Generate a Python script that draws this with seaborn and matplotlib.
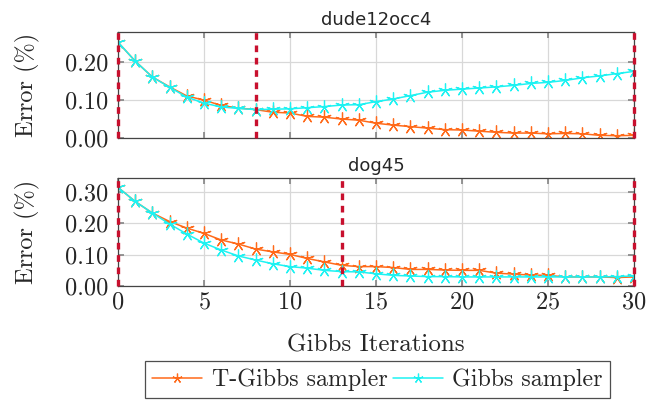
import matplotlib
matplotlib.use("Agg")
import matplotlib.pyplot as plt
import numpy as np
import pandas as pd
import seaborn as sns

# iterations
iters = list(range(31))

# dude12occ4
dude_tgibbs = [0.253, 0.203, 0.161, 0.135, 0.111, 0.100, 0.086, 0.079, 0.075, 0.068, 0.066,
               0.057, 0.055, 0.050, 0.047, 0.039, 0.034, 0.030, 0.026, 0.022, 0.021,
               0.018, 0.015, 0.013, 0.013, 0.011, 0.012, 0.011, 0.007, 0.006, 0.007]
dude_gibbs = [0.253, 0.203, 0.161, 0.134, 0.108, 0.092, 0.082, 0.078, 0.075, 0.076, 0.077,
              0.080, 0.083, 0.087, 0.088, 0.096, 0.103, 0.112, 0.121, 0.126, 0.129,
              0.132, 0.135, 0.139, 0.144, 0.147, 0.152, 0.159, 0.164, 0.170, 0.176]

# dog45
dog_tgibbs = [0.315, 0.270, 0.233, 0.206, 0.185, 0.168, 0.147, 0.134, 0.118, 0.109, 0.101,
              0.088, 0.077, 0.066, 0.062, 0.062, 0.059, 0.053, 0.053, 0.051, 0.050,
              0.050, 0.041, 0.038, 0.035, 0.034, 0.029, 0.029, 0.029, 0.027, 0.029]
dog_gibbs = [0.315, 0.270, 0.233, 0.198, 0.166, 0.137, 0.115, 0.096, 0.083, 0.071, 0.062,
             0.057, 0.050, 0.046, 0.045, 0.039, 0.034, 0.032, 0.030, 0.030, 0.029,
             0.029, 0.029, 0.029, 0.029, 0.029, 0.029, 0.029, 0.029, 0.030, 0.032]

dude_vlines = [0, 8, 30]
dog_vlines = [0, 13, 30]

names = ["T-Gibbs sampler", "Gibbs sampler"]
colors = {"T-Gibbs sampler": "#ff6a1a", "Gibbs sampler": "#1ef2f2"}

sns.set_theme(style="whitegrid")
plt.rcParams["font.family"] = ["cmr10", "DejaVu Serif"]
plt.rcParams["axes.formatter.use_mathtext"] = True
plt.rcParams["mathtext.fontset"] = "cm"

fig = plt.figure(figsize=(6.47, 4.03), dpi=100)
ax1 = fig.add_axes([0.1824, 0.6576, 0.7975, 0.263])
ax2 = fig.add_axes([0.1824, 0.2903, 0.7975, 0.268])

panels = [
    (ax1, "dude12occ4", dude_tgibbs, dude_gibbs, dude_vlines, 0.28, [0, 0.1, 0.2]),
    (ax2, "dog45", dog_tgibbs, dog_gibbs, dog_vlines, 0.345, [0, 0.1, 0.2, 0.3]),
]

for ax, title, tg, g, vl, ytop, yt in panels:
    df = pd.DataFrame({
        "iter": iters * 2,
        "err": tg + g,
        "method": [names[0]] * len(iters) + [names[1]] * len(iters),
    })
    sns.lineplot(data=df, x="iter", y="err", hue="method", palette=colors,
                 marker=(5, 2, 0), markersize=10, markeredgewidth=0.9,
                 linewidth=1.1, ax=ax, legend=False)
    # asterisk markers are edge-only, so give them the line colour
    for ln in ax.lines:
        ln.set_markeredgecolor(ln.get_color())
    for x in vl:
        ax.axvline(x, color="#c8102e", lw=2.4, ls=(0, (2, 1.7)), zorder=5, clip_on=False)
    ax.set_xlim(0, 30)
    ax.set_ylim(0, ytop)
    ax.set_xticks(range(0, 31, 5))
    ax.set_yticks(yt)
    ax.set_yticklabels([f"{v:.2f}" for v in yt])
    ax.set_ylabel("Error (%)", fontsize=17.5, labelpad=18)
    ax.set_xlabel("")
    ax.set_title(title, fontsize=13, family="DejaVu Sans", pad=5)
    ax.grid(True, color="#d8d8d8", lw=0.9)
    ax.tick_params(direction="in", length=4, color="#888888", labelsize=17.5,
                   top=True, right=True, bottom=True, left=True)
    ax.tick_params(axis="y", pad=7)
    ax.tick_params(axis="x", pad=4)
    for s in ax.spines.values():
        s.set_color("#444444")
        s.set_linewidth(0.9)

ax1.tick_params(labelbottom=False)
ax2.set_xlabel("Gibbs Iterations", fontsize=18, labelpad=15)

handles = [plt.Line2D([], [], color=colors[n], marker=(5, 2, 0), markersize=7,
                      markeredgewidth=0.9, lw=1.1) for n in names]
leg = fig.legend(handles, names, loc="lower center", bbox_to_anchor=(0.5835, 0.0),
                 ncol=2, fontsize=17.2, frameon=True, fancybox=False,
                 handlelength=2.1, handletextpad=0.4, columnspacing=0.2,
                 borderpad=0.3, borderaxespad=0.2)
leg.get_frame().set_edgecolor("#222222")
leg.get_frame().set_linewidth(0.9)

fig.savefig("out.png", dpi=100)
